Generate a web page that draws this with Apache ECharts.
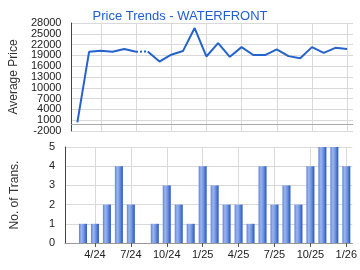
<!DOCTYPE html>
<html><head><meta charset="utf-8">
<script src="https://cdn.jsdelivr.net/npm/echarts@6/dist/echarts.min.js"></script>
<style>html,body{margin:0;padding:0;background:#fff}#c{width:360px;height:270px}</style>
</head><body><div id="c"></div>
<script>
var months = ["2/24","3/24","4/24","5/24","6/24","7/24","8/24","9/24","10/24","11/24","12/24",
  "1/25","2/25","3/25","4/25","5/25","6/25","7/25","8/25","9/25","10/25","11/25","12/25","1/26"];
var avgPrice = [400,20000,20300,20000,20800,20000,20100,17300,19200,20200,26600,
  18700,22400,18600,21300,19100,19100,20700,18800,18200,21300,19700,21100,20800];
var transCount = [0,1,1,2,4,2,0,1,3,2,1,4,3,2,2,1,4,2,3,2,4,5,5,4];
var priceTicks = {min:-2000, max:28000, step:3000};
var countTicks = {min:0, max:5, step:1};
var gapIndex = 6; // month drawn with dotted link

var solidA = avgPrice.map(function(v,i){return i < gapIndex ? v : null;});
var solidB = avgPrice.map(function(v,i){return i >= gapIndex ? v : null;});
var dotted = avgPrice.map(function(v,i){return (i === gapIndex-1 || i === gapIndex) ? v : null;});

var font = 'Liberation Sans, Arial, sans-serif';
var gridColor = '#d9d9d9';
var showIdx = function(i){return i % 3 === 2;};
var priceLabel = {color:'#222', fontSize:11, fontFamily:font, margin:10};
var chart = echarts.init(document.getElementById('c'), null, {renderer:'canvas'});
chart.setOption({
  animation:false,
  title:{text:'Price Trends - WATERFRONT', left:'center', top:5,
    textStyle:{color:'#1f5fd0', fontSize:13, fontWeight:'normal', fontFamily:font}},
  grid:[
    {left:65, right:7, top:23, height:108},
    {left:65, right:7, top:147, height:96}
  ],
  xAxis:[
    {type:'category', gridIndex:0, data:months, boundaryGap:true,
      axisLine:{lineStyle:{color:'#aaaaaa'}}, axisTick:{show:false}, axisLabel:{show:false},
      splitLine:{show:true, alignWithLabel:true, interval:showIdx, lineStyle:{color:gridColor}}},
    {type:'category', gridIndex:1, data:months, boundaryGap:true,
      axisLine:{lineStyle:{color:'#999999', width:1}},
      axisTick:{show:true, alignWithLabel:true, interval:showIdx, length:4, lineStyle:{color:'#555'}},
      axisLabel:{interval:showIdx, color:'#222', fontSize:11, fontFamily:font, margin:6},
      splitLine:{show:true, alignWithLabel:true, interval:showIdx, lineStyle:{color:gridColor}}}
  ],
  yAxis:[
    {type:'value', gridIndex:0, min:priceTicks.min, max:priceTicks.max, interval:priceTicks.step,
      name:'Average Price', nameLocation:'middle', nameGap:44,
      nameTextStyle:{color:'#333', fontSize:12, fontFamily:font},
      axisLine:{show:true, lineStyle:{color:'#444'}}, axisTick:{show:false},
      axisLabel:Object.assign({showMinLabel:false, showMaxLabel:false,
        formatter:function(v){return String(v);}}, priceLabel),
      splitLine:{show:true, lineStyle:{color:gridColor}}},
    {type:'value', gridIndex:1, min:countTicks.min, max:countTicks.max, interval:countTicks.step,
      name:'No. of Trans.', nameLocation:'middle', nameGap:44,
      nameTextStyle:{color:'#333', fontSize:12, fontFamily:font},
      axisLine:{show:true, lineStyle:{color:'#444'}}, axisTick:{show:false},
      axisLabel:{color:'#222', fontSize:11, fontFamily:font, margin:10, showMinLabel:true, showMaxLabel:true},
      splitLine:{show:true, lineStyle:{color:gridColor}}},
    {type:'value', gridIndex:0, position:'left', offset:0, min:priceTicks.min, max:priceTicks.max, interval:priceTicks.step,
      axisLine:{show:false}, axisTick:{show:false}, splitLine:{show:false},
      axisLabel:Object.assign({showMinLabel:true, showMaxLabel:true,
        formatter:function(v){return (v === priceTicks.min || v === priceTicks.max) ? String(v) : '';}}, priceLabel)}
  ],
  series:[
    {type:'line', xAxisIndex:0, yAxisIndex:0, data:solidA, symbol:'none', connectNulls:false,
      lineStyle:{color:'#2563cc', width:2}},
    {type:'line', xAxisIndex:0, yAxisIndex:0, data:solidB, symbol:'none', connectNulls:false,
      lineStyle:{color:'#2563cc', width:2}},
    {type:'line', xAxisIndex:0, yAxisIndex:0, data:dotted, symbol:'none', connectNulls:false,
      lineStyle:{color:'#2563cc', width:2, type:[2,2]}},
    {type:'bar', xAxisIndex:1, yAxisIndex:1, data:transCount, barWidth:8,
      itemStyle:{color:new echarts.graphic.LinearGradient(0,0,1,0,[
        {offset:0, color:'#5d82d8'},{offset:0.3, color:'#9db6ec'},
        {offset:0.65, color:'#6a8fe0'},{offset:1, color:'#2452bd'}])}}
  ]
});
</script></body></html>
